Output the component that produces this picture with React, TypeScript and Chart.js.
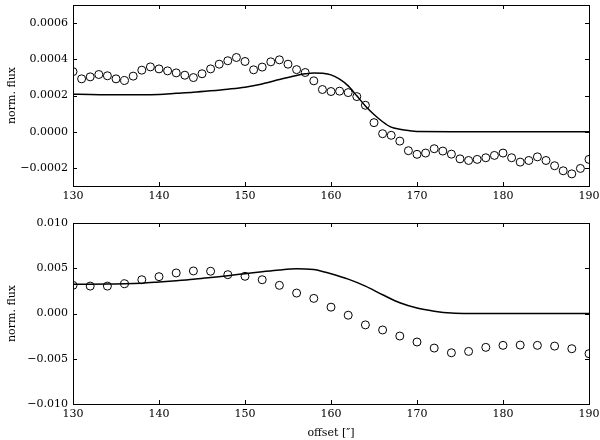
import React, { useEffect, useRef } from "react";
import { Chart, registerables } from "chart.js";

Chart.register(...registerables);

// ---------- data ----------
const topObsX = [130, 131, 132, 133, 134, 135, 136, 137, 138, 139, 140, 141, 142, 143, 144, 145, 146, 147, 148, 149, 150, 151, 152, 153, 154, 155, 156, 157, 158, 159, 160, 161, 162, 163, 164, 165, 166, 167, 168, 169, 170, 171, 172, 173, 174, 175, 176, 177, 178, 179, 180, 181, 182, 183, 184, 185, 186, 187, 188, 189, 190];
const topObsY = [0.000332, 0.000292, 0.000303, 0.000316, 0.000309, 0.000292, 0.000283, 0.000307, 0.00034, 0.000358, 0.000347, 0.000336, 0.000325, 0.000312, 0.000299, 0.00032, 0.000347, 0.000373, 0.000392, 0.00041, 0.000388, 0.000342, 0.000357, 0.000386, 0.000397, 0.000373, 0.000343, 0.000327, 0.000281, 0.000233, 0.000222, 0.000224, 0.000216, 0.000194, 0.000146, 0.00005, -0.000011, -0.00002, -0.000052, -0.000105, -0.000125, -0.000118, -0.000094, -0.000107, -0.000124, -0.00015, -0.000159, -0.000153, -0.000144, -0.000131, -0.000118, -0.000144, -0.000168, -0.000159, -0.000139, -0.000159, -0.000188, -0.000216, -0.000233, -0.000203, -0.000153];

const topModelX = [130, 132, 134, 136, 138, 140, 142, 144, 146, 148, 150, 152, 154, 155, 156, 157, 158, 159, 160, 161, 162, 163, 164, 165, 166, 167, 168, 169, 170, 175, 180, 185, 190];
const topModelY = [0.000207, 0.000205, 0.000204, 0.000204, 0.000204, 0.000206, 0.000212, 0.000218, 0.000226, 0.000235, 0.000246, 0.000264, 0.000288, 0.0003, 0.000311, 0.00032, 0.000325, 0.000323, 0.000314, 0.00029, 0.000253, 0.000198, 0.000142, 0.000095, 0.000055, 0.000025, 0.000014, 0.000006, 0.000001, 0, 0, 0, 0];

const botObsX = [130, 132, 134, 136, 138, 140, 142, 144, 146, 148, 150, 152, 154, 156, 158, 160, 162, 164, 166, 168, 170, 172, 174, 176, 178, 180, 182, 184, 186, 188, 190];
const botObsY = [0.00311, 0.00303, 0.00303, 0.00329, 0.00373, 0.00407, 0.00448, 0.0047, 0.00467, 0.00429, 0.00411, 0.00373, 0.00311, 0.00226, 0.00167, 0.0007, -0.00019, -0.00126, -0.00182, -0.00249, -0.00315, -0.00382, -0.00434, -0.00419, -0.00374, -0.00352, -0.00349, -0.00352, -0.0036, -0.00389, -0.00444];

const botModelX = [130, 132, 134, 136, 138, 140, 142, 144, 146, 148, 150, 152, 154, 156, 157, 158, 159, 160, 162, 164, 166, 168, 170, 172, 174, 176, 180, 185, 190];
const botModelY = [0.00322, 0.00323, 0.00325, 0.00328, 0.00335, 0.00348, 0.00362, 0.00378, 0.00398, 0.00418, 0.0044, 0.00462, 0.00482, 0.00494, 0.00493, 0.00485, 0.00465, 0.0044, 0.0038, 0.00303, 0.00207, 0.00118, 0.0006, 0.00026, 0.00005, 0, 0, 0, 0];

const xTicks = [130, 140, 150, 160, 170, 180, 190];
const topYTicks = [-0.0002, 0, 0.0002, 0.0004, 0.0006];
const botYTicks = [-0.01, -0.005, 0, 0.005, 0.01];

const yLabel = "norm. flux";
const xLabel = "offset [″]";

// ---------- helpers ----------
const FONT = { family: "'DejaVu Serif', serif", size: 11 };

const framePlugin = {
  id: "frameTicks",
  afterDraw(chart: any) {
    const { ctx, chartArea: a, scales } = chart;
    ctx.save();
    ctx.strokeStyle = "#000";
    ctx.lineWidth = 1;
    const L = 4;
    ctx.beginPath();
    scales.x.ticks.forEach((t: any) => {
      const px = Math.round(scales.x.getPixelForValue(t.value)) + 0.5;
      ctx.moveTo(px, a.bottom);
      ctx.lineTo(px, a.bottom - L);
      ctx.moveTo(px, a.top);
      ctx.lineTo(px, a.top + L);
    });
    scales.y.ticks.forEach((t: any) => {
      const py = Math.round(scales.y.getPixelForValue(t.value)) + 0.5;
      ctx.moveTo(a.left, py);
      ctx.lineTo(a.left + L, py);
      ctx.moveTo(a.right, py);
      ctx.lineTo(a.right - L, py);
    });
    ctx.stroke();
    ctx.strokeRect(Math.round(a.left) + 0.5, Math.round(a.top) + 0.5, Math.round(a.right - a.left), Math.round(a.bottom - a.top));
    ctx.restore();
  },
};

const fmt = (v: number, d: number) => {
  const s = Math.abs(v).toFixed(d);
  return v < -1e-12 ? "\u2212" + s : s;
};

function makeConfig(
  obsX: number[], obsY: number[], modX: number[], modY: number[],
  yMin: number, yMax: number, yTicks: number[], dec: number,
  padTop: number, xAxisH: number, showXTitle: boolean
): any {
  return {
    type: "scatter",
    data: {
      datasets: [
        {
          data: modX.map((x, i) => ({ x, y: modY[i] })),
          showLine: true,
          borderColor: "#000",
          borderWidth: 1.5,
          pointRadius: 0,
          cubicInterpolationMode: "monotone",
          clip: 0,
        },
        {
          data: obsX.map((x, i) => ({ x, y: obsY[i] })),
          showLine: false,
          pointRadius: 4,
          pointBorderWidth: 1,
          pointBorderColor: "#000",
          pointBackgroundColor: "rgba(0,0,0,0)",
          clip: 0,
        },
      ],
    },
    options: {
      responsive: false,
      animation: false,
      devicePixelRatio: 1,
      layout: { padding: { left: 0, right: 11, top: padTop, bottom: 0 } },
      plugins: { legend: { display: false }, tooltip: { enabled: false } },
      scales: {
        x: {
          type: "linear",
          min: 130,
          max: 190,
          grid: { display: false, drawTicks: false },
          border: { display: false },
          afterBuildTicks: (s: any) => { s.ticks = xTicks.map((v) => ({ value: v })); },
          afterFit: (s: any) => { s.height = xAxisH; s.paddingLeft = 0; s.paddingRight = 0; },
          ticks: { color: "#000", font: FONT, padding: 4, maxRotation: 0, autoSkip: false, callback: (v: any) => String(v) },
          title: { display: showXTitle, text: xLabel, color: "#000", font: FONT, padding: { top: 0, bottom: 0 } },
        },
        y: {
          type: "linear",
          min: yMin,
          max: yMax,
          grid: { display: false, drawTicks: false },
          border: { display: false },
          afterBuildTicks: (s: any) => { s.ticks = yTicks.map((v) => ({ value: v })); },
          afterFit: (s: any) => { s.width = 73; s.paddingTop = 0; s.paddingBottom = 0; },
          ticks: { color: "#000", font: FONT, padding: 5, autoSkip: false, callback: (v: any) => fmt(Number(v), dec) },
          title: { display: true, text: yLabel, color: "#000", font: FONT, padding: { top: 6, bottom: 0 } },
        },
      },
    },
    plugins: [framePlugin],
  };
}

export default function App() {
  const topRef = useRef<HTMLCanvasElement>(null);
  const botRef = useRef<HTMLCanvasElement>(null);

  useEffect(() => {
    const c1 = new Chart(
      topRef.current as HTMLCanvasElement,
      makeConfig(topObsX, topObsY, topModelX, topModelY, -0.0003, 0.0007, topYTicks, 4, 5, 24, false)
    );
    const c2 = new Chart(
      botRef.current as HTMLCanvasElement,
      makeConfig(botObsX, botObsY, botModelX, botModelY, -0.01, 0.01, botYTicks, 3, 13, 36, true)
    );
    return () => {
      c1.destroy();
      c2.destroy();
    };
  }, []);

  return (
    <div style={{ position: "fixed", left: 0, top: 0, width: 600, height: 440, background: "#fff" }}>
      <canvas ref={topRef} width={600} height={210} style={{ position: "absolute", left: 0, top: 0, width: 600, height: 210 }} />
      <canvas ref={botRef} width={600} height={230} style={{ position: "absolute", left: 0, top: 210, width: 600, height: 230 }} />
    </div>
  );
}
